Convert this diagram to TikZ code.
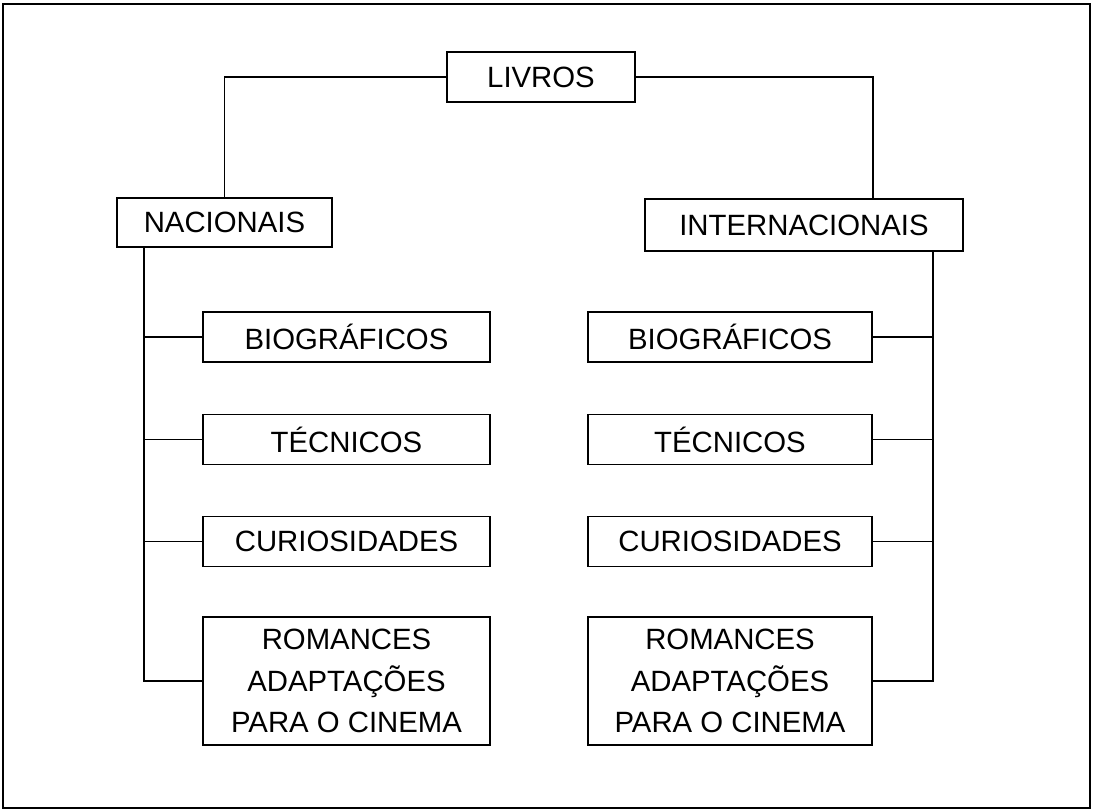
\documentclass[tikz,border=0pt]{standalone}
\usepackage{fontspec}
\setmainfont{Liberation Sans}
\usetikzlibrary{calc}
\begin{document}
\begin{tikzpicture}[x=0.75pt,y=-0.75pt,
  box/.style={draw,line width=1.3pt,inner sep=0pt,align=center,
    font=\fontsize{22}{31}\selectfont,minimum height=37.5pt},
  link/.style={line width=1.3pt}]
\useasboundingbox (0,0) rectangle (1093,811);
\draw[line width=1.5pt] (3,4) rectangle (1090,808);
\node[box,minimum width=141pt] (livros) at (541,77) {LIVROS};
\node[box,minimum width=161.25pt,minimum height=36.75pt] (nac) at (224.5,222.5) {NACIONAIS};
\node[box,minimum width=238.5pt,minimum height=39pt] (int) at (804,225) {INTERNACIONAIS};
\node[box,minimum width=215.25pt] (bioA) at (346.5,337) {BIOGRÁFICOS};
\node[box,minimum width=215.25pt] (tecA) at (346.5,439.5) {TÉCNICOS};
\node[box,minimum width=215.25pt] (curA) at (346.5,541.5) {CURIOSIDADES};
\node[box,minimum width=215.25pt,minimum height=96pt] (romA) at (346.5,681) {ROMANCES\\ADAPTAÇÕES\\PARA O CINEMA};
\node[box,minimum width=213pt] (bioB) at (730,337) {BIOGRÁFICOS};
\node[box,minimum width=213pt] (tecB) at (730,439.5) {TÉCNICOS};
\node[box,minimum width=213pt] (curB) at (730,541.5) {CURIOSIDADES};
\node[box,minimum width=213pt,minimum height=96pt] (romB) at (730,681) {ROMANCES\\ADAPTAÇÕES\\PARA O CINEMA};
\coordinate (inttop) at ($(int.north east)+(-91,0)$);
\coordinate (nacbot) at ($(nac.south west)+(28,0)$);
\coordinate (intbot) at ($(int.south east)+(-31,0)$);
\draw[link] (livros.west) -| (nac.north);
\draw[link] (livros.east) -| (inttop);
\draw[link] (nacbot) |- (romA.west);
\draw[link] (bioA.west) -- (bioA.west -| nacbot);
\draw[link] (tecA.west) -- (tecA.west -| nacbot);
\draw[link] (curA.west) -- (curA.west -| nacbot);
\draw[link] (intbot) |- (romB.east);
\draw[link] (bioB.east) -- (bioB.east -| intbot);
\draw[link] (tecB.east) -- (tecB.east -| intbot);
\draw[link] (curB.east) -- (curB.east -| intbot);
\end{tikzpicture}
\end{document}
